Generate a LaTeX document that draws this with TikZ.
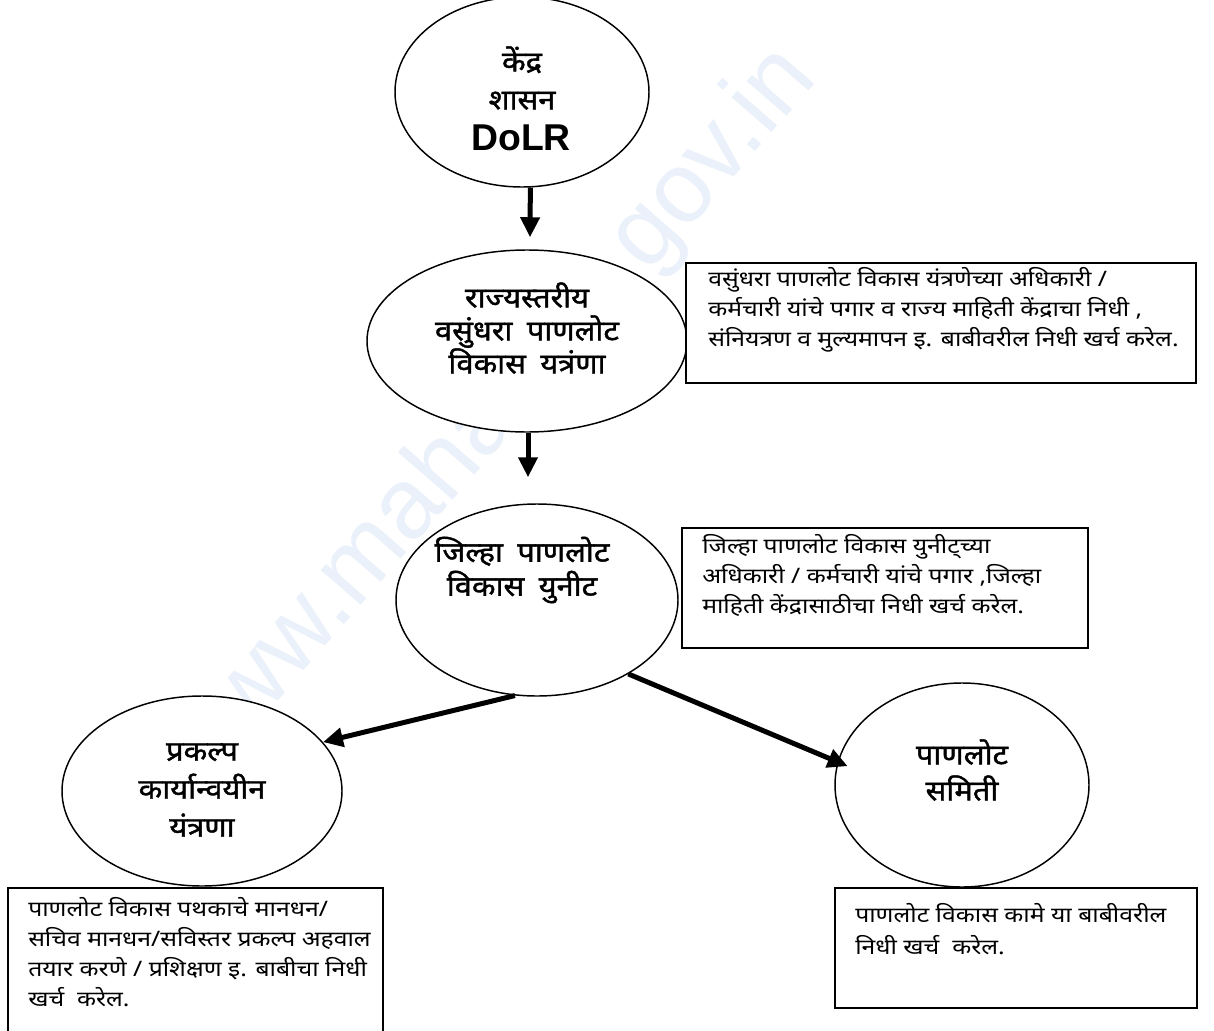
\documentclass[tikz,border=0pt]{standalone}
\usepackage{fontspec}
\setmainfont{Liberation Sans}
\newfontfamily\dev[Script=Devanagari,FakeStretch=1.16]{Noto Sans}
\newfontfamily\devb[Script=Devanagari,FakeBold=1.4,FakeStretch=1.1,WordSpace=1.8]{Noto Sans}
\usetikzlibrary{arrows.meta,shapes.geometric,calc}
\definecolor{wmcol}{RGB}{234,241,250}
\begin{document}
\begin{tikzpicture}[x=0.75pt,y=-0.75pt,
  oval/.style={draw=black,line width=1.1pt,fill=white,ellipse,inner sep=0pt},
  box/.style={draw=black,line width=1.4pt,fill=white,rectangle,inner sep=0pt},
  otext/.style={align=center,inner sep=0pt},
  btext/.style={font=\dev\fontsize{16}{22.5}\selectfont,align=left,anchor=west,inner sep=0pt},
  arr/.style={line width=3.75pt,-{Triangle[length=15pt,width=14pt]}},
  wmtext/.style={font=\fontsize{75}{75}\selectfont,text=wmcol,rotate=49,inner sep=0pt}]
\useasboundingbox (0,0) rectangle (1214,1031);
\clip (0,0) rectangle (1214,1031);
\fill[white] (0,0) rectangle (1214,1031);
\node[wmtext] (wm) at (490,418) {www.mahaagri.gov.in};
% ellipses
\node[oval,minimum width=190.5pt,minimum height=142.5pt] (e1) at (522,92) {};
\node[oval,minimum width=240pt,minimum height=136.5pt] (e2) at (527,341) {};
\node[oval,minimum width=211.5pt,minimum height=144pt] (e3) at (537,600) {};
\node[oval,minimum width=210pt,minimum height=142.5pt] (e4) at (202,791) {};
\node[oval,minimum width=190.5pt,minimum height=153pt] (e5) at (962,785) {};
% ellipse texts
\node[otext,font=\devb\fontsize{21}{28.5}\selectfont] (t1) at (522,78) {केंद्र\\शासन};
\node[font=\bfseries\fontsize{28}{28}\selectfont,inner sep=0pt] (t1b) at (521,138) {DoLR};
\node[otext,font=\devb\fontsize{21}{24.75}\selectfont] (t2) at (527,328) {राज्यस्तरीय\\वसुंधरा पाणलोट\\विकास यत्रंणा};
\node[otext,font=\devb\fontsize{21}{25.5}\selectfont] (t3) at (522,570) {जिल्हा पाणलोट\\विकास युनीट};
\node[otext,font=\devb\fontsize{21}{28.5}\selectfont] (t4) at (202,790) {प्रकल्प\\कार्यान्वयीन\\यंत्रणा};
\node[otext,font=\devb\fontsize{21}{27}\selectfont] (t5) at (962,770) {पाणलोट\\समिती};
% boxes
\node[box,minimum width=382.5pt,minimum height=90pt] (b1) at (941,323) {};
\node[box,minimum width=304.5pt,minimum height=90pt] (b2) at (885,588) {};
\node[box,minimum width=281.25pt,minimum height=115.5pt] (b3) at (195.5,965) {};
\node[box,minimum width=271.5pt,minimum height=90pt] (b4) at (1016,948) {};
% box texts
\node[btext] (tb1) at (708,310) {वसुंधरा पाणलोट विकास यंत्रणेच्या अधिकारी /\\कर्मचारी यांचे पगार व राज्य माहिती केंद्राचा निधी ,\\संनियत्रण व मुल्यमापन इ. बाबीवरील निधी खर्च करेल.};
\node[btext] (tb2) at (702,575) {जिल्हा पाणलोट विकास युनीट्च्या\\अधिकारी / कर्मचारी यांचे पगार ,जिल्हा\\माहिती केंद्रासाठीचा निधी खर्च करेल.};
\node[btext] (tb3) at (28,952) {पाणलोट विकास पथकाचे मानधन/\\सचिव मानधन/सविस्तर प्रकल्प अहवाल\\तयार करणे / प्रशिक्षण इ. बाबीचा निधी\\खर्च~~करेल.};
\node[btext,font=\dev\fontsize{16}{24}\selectfont] (tb4) at (855,929) {पाणलोट विकास कामे या बाबीवरील\\निधी खर्च~~करेल.};
% arrows
\draw[arr] (e1.-85) -- ($(e2.north)+(3,-12)$);
\draw[arr] ($(e2.south)+(1,0)$) -- ($(e3.north)+(-9,-26)$);
\draw[arr] (e3.-103) -- (e4.22);
\draw[arr] (e3.-39) -- ($(e5.171)+(11,1)$);
\end{tikzpicture}
\end{document}
